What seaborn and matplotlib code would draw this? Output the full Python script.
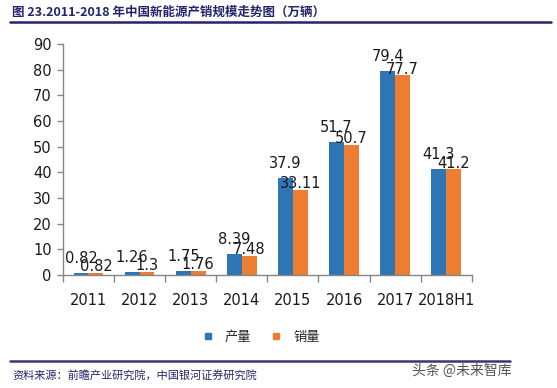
import matplotlib
matplotlib.use("Agg")
import matplotlib.pyplot as plt
import seaborn as sns
import pandas as pd
from matplotlib.lines import Line2D

categories = ["2011", "2012", "2013", "2014", "2015", "2016", "2017", "2018H1"]
production = [0.82, 1.26, 1.75, 8.39, 37.9, 51.7, 79.4, 41.3]
sales = [0.82, 1.3, 1.76, 7.48, 33.11, 50.7, 77.7, 41.2]
production_labels = ["0.82", "1.26", "1.75", "8.39", "37.9", "51.7", "79.4", "41.3"]
sales_labels = ["0.82", "1.3", "1.76", "7.48", "33.11", "50.7", "77.7", "41.2"]
series_names = ["产量", "销量"]
yticks = [0, 10, 20, 30, 40, 50, 60, 70, 80, 90]

df = pd.DataFrame({
    "year": categories * 2,
    "value": production + sales,
    "series": [series_names[0]] * len(categories) + [series_names[1]] * len(categories),
})

sns.set_theme(style="white")
plt.rcParams["font.family"] = ["DejaVu Sans", "Noto Sans CJK SC"]

BLUE = "#2E75B6"
ORANGE = "#ED7D31"
NAVY = "#24246E"

fig = plt.figure(figsize=(5.57, 3.88), dpi=100)
ax = fig.add_axes([0.113, 0.291, 0.734, 0.596])

sns.barplot(data=df, x="year", y="value", hue="series", order=categories,
            hue_order=series_names, palette=[BLUE, ORANGE], width=0.58,
            saturation=1, ax=ax, legend=True)

for c in ax.containers:
    for p in c:
        p.set_edgecolor("none")

ax.bar_label(ax.containers[0], labels=production_labels, padding=5,
             fontsize=10.5, color="#1a1a1a")
ax.bar_label(ax.containers[1], labels=sales_labels, padding=-1,
             fontsize=10.5, color="#1a1a1a")

ax.set_ylim(0, 90)
ax.set_xlim(-0.5, len(categories) - 0.5)
ax.set_yticks(yticks)
ax.set_xlabel("")
ax.set_ylabel("")
ax.tick_params(axis="y", labelsize=10.5, length=4, width=1, color="#868686",
               direction="out", left=True, pad=4, labelcolor="#1a1a1a")
ax.tick_params(axis="x", labelsize=10.5, length=0, pad=13, labelcolor="#1a1a1a")
ax.set_xticks([i - 0.5 for i in range(len(categories) + 1)], minor=True)
ax.tick_params(axis="x", which="minor", length=5, width=1, color="#868686",
               direction="out", bottom=True)
for s in ["top", "right"]:
    ax.spines[s].set_visible(False)
for s in ["left", "bottom"]:
    ax.spines[s].set_color("#868686")
    ax.spines[s].set_linewidth(1)

ax.get_legend().remove()
handles = [Line2D([0], [0], marker="s", linestyle="none", markersize=5,
                  markerfacecolor=col, markeredgecolor=col) for col in (BLUE, ORANGE)]
fig.legend(handles, series_names, loc="center", bbox_to_anchor=(0.462, 0.131),
           ncol=2, frameon=False, handletextpad=0.3, columnspacing=0.9,
           prop={"family": ["Noto Sans CJK SC"], "size": 9.5})

# title and rules
fig.text(0.022, 0.968, "图 23.2011-2018 年中国新能源产销规模走势图（万辆）",
         family=["Noto Sans CJK SC", "DejaVu Sans"], fontsize=9,
         fontweight="bold", color=NAVY, va="center", ha="left")
fig.add_artist(Line2D([0.018, 0.99], [0.943, 0.943], color=NAVY, lw=1.8))
fig.add_artist(Line2D([0.018, 0.915], [0.07, 0.07], color="#3D3573", lw=1.8))
fig.text(0.022, 0.033, "资料来源：前瞻产业研究院，中国银河证券研究院",
         family=["Noto Sans CJK SC", "DejaVu Sans"], fontsize=8,
         style="italic", color=NAVY, va="center", ha="left")
fig.text(0.918, 0.045, "头条 @未来智库", family=["Noto Sans CJK SC", "DejaVu Sans"],
         fontsize=10, color="#555555", va="center", ha="right")

fig.savefig("out.png", dpi=100)
